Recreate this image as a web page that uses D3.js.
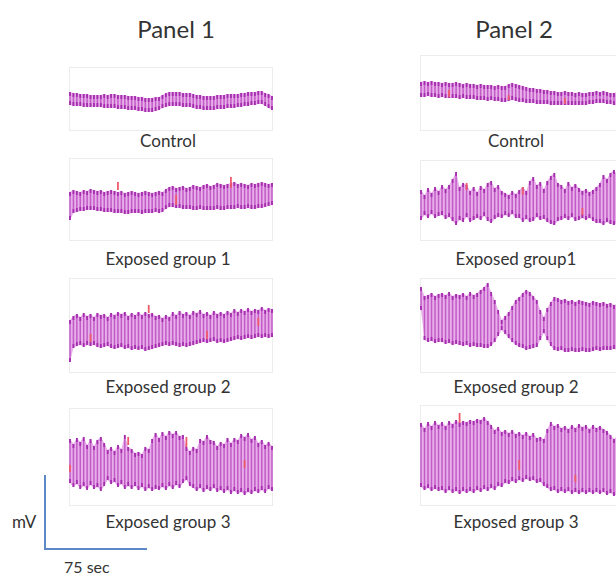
<!DOCTYPE html>
<html>
<head>
<meta charset="utf-8">
<script src="https://cdn.jsdelivr.net/npm/d3@7"></script>
<style>
  body { margin: 0; background: #fff; }
  text { font-family: Lato, "Open Sans", sans-serif; fill: #333; }
</style>
</head>
<body>
<svg width="616" height="577"></svg>
<script>
// panel titles and trace labels
var panels = ["Panel 1", "Panel 2"];
var labels1 = ["Control", "Exposed group 1", "Exposed group 2", "Exposed group 3"];
var labels2 = ["Control", "Exposed group1", "Exposed group 2", "Exposed group 3"];

// each trace: peak (hi) and trough (lo) of every cycle, in mV units (relative)
var p1CtrlHi = [9,8,8,7,7,7,6,6,6,6,7,6,7,7,6,6,6,5,5,5,4,4,3,3,3,4,4,6,8,9,9,9,9,8,8,8,7,6,6,5,5,5,5,6,6,6,7,7,7,7,8,8,9,9,9,10,10,8,7,5];
var p1CtrlLo = [-4,-5,-5,-5,-6,-6,-6,-6,-6,-6,-7,-7,-7,-7,-8,-8,-8,-9,-9,-9,-10,-10,-11,-11,-11,-10,-9,-7,-6,-5,-5,-5,-5,-6,-6,-6,-7,-8,-8,-9,-9,-9,-9,-8,-8,-8,-7,-7,-7,-6,-6,-5,-5,-4,-4,-3,-3,-5,-7,-9];

var p1Exp1Hi = [11,13,12,11,13,12,14,13,12,13,11,12,13,12,11,12,10,11,12,11,10,11,12,11,10,11,12,11,14,16,17,15,16,17,15,16,18,17,16,18,19,17,18,20,19,18,19,20,21,19,20,19,18,20,19,20,21,20,19,20];
var p1Exp1Lo = [-17,-10,-9,-8,-8,-7,-7,-7,-8,-8,-9,-9,-9,-10,-10,-10,-11,-11,-10,-10,-10,-11,-10,-10,-10,-9,-10,-9,-6,-4,-4,-5,-5,-6,-6,-6,-7,-7,-6,-7,-7,-7,-7,-6,-7,-7,-6,-6,-6,-5,-6,-6,-5,-6,-6,-5,-5,-4,-3,-2];

var p1Exp2Hi = [10,14,16,13,17,14,16,13,17,15,16,13,17,15,18,16,18,14,17,15,18,15,18,16,17,14,15,12,15,13,18,15,19,16,18,15,19,17,20,16,18,15,19,16,18,16,19,17,21,18,21,19,22,19,21,20,23,20,22,21];
var p1Exp2Lo = [-32,-18,-16,-15,-17,-15,-16,-15,-17,-18,-17,-16,-18,-19,-18,-17,-19,-18,-20,-19,-20,-19,-21,-20,-19,-18,-17,-16,-15,-16,-15,-16,-17,-16,-17,-16,-15,-14,-13,-12,-13,-12,-11,-13,-12,-13,-12,-11,-10,-9,-10,-9,-8,-9,-8,-7,-8,-7,-8,-7];

var p1Exp3Hi = [24,19,25,21,26,18,24,17,23,26,20,13,16,12,18,14,28,16,14,10,11,9,16,14,24,30,25,31,27,32,29,32,27,28,16,12,16,14,24,22,28,23,22,17,21,19,25,20,25,23,29,26,30,24,27,20,23,18,21,17];
var p1Exp3Lo = [-20,-24,-21,-26,-23,-27,-22,-26,-24,-28,-23,-17,-21,-19,-24,-21,-26,-23,-26,-23,-27,-24,-28,-25,-28,-26,-27,-24,-27,-23,-26,-22,-25,-20,-17,-23,-25,-28,-25,-29,-26,-28,-25,-29,-27,-30,-27,-31,-28,-31,-29,-32,-29,-31,-28,-30,-27,-30,-26,-28];

var p2CtrlHi = [11,12,11,12,11,11,10,11,10,10,11,10,9,10,9,9,8,9,8,8,8,7,8,7,7,9,10,9,8,7,6,5,5,4,4,3,3,2,2,1,1,2,1,1,0,1,0,0,1,1,2,1,2,1,0,0,1,0,0,0];
var p2CtrlLo = [-4,-4,-3,-4,-4,-5,-4,-5,-5,-5,-5,-6,-5,-6,-6,-6,-7,-7,-7,-8,-7,-8,-8,-9,-9,-8,-7,-8,-9,-9,-10,-10,-10,-11,-11,-11,-11,-12,-12,-12,-12,-12,-12,-12,-12,-12,-12,-12,-11,-11,-10,-10,-10,-11,-11,-12,-12,-12,-12,-12];

var p2Exp1Hi = [13,8,15,10,16,12,18,14,18,24,31,16,20,18,12,16,11,17,14,20,22,15,18,12,10,8,12,9,13,16,12,22,26,18,21,14,22,27,30,20,18,14,21,16,19,15,12,14,11,13,16,20,28,24,30,33,28,32,30,33];
var p2Exp1Lo = [-17,-12,-15,-11,-15,-13,-12,-16,-14,-18,-22,-17,-19,-14,-19,-17,-15,-17,-13,-18,-20,-16,-14,-15,-12,-14,-11,-15,-15,-19,-16,-19,-18,-14,-17,-16,-19,-21,-22,-18,-17,-15,-17,-14,-18,-17,-15,-17,-15,-18,-20,-20,-22,-19,-21,-22,-20,-22,-21,-23];

var p2Exp2Hi = [33,24,25,27,24,26,27,25,28,24,26,25,27,24,28,25,27,30,33,37,28,20,10,0,4,8,14,20,23,27,30,28,24,20,10,3,12,18,23,22,20,21,19,20,18,20,19,18,17,19,18,17,18,16,17,15,16,15,14,15];
var p2Exp2Lo = [10,-20,-22,-21,-23,-22,-22,-24,-23,-25,-24,-25,-26,-25,-27,-26,-27,-27,-28,-28,-26,-22,-16,-10,-14,-18,-22,-25,-27,-28,-30,-29,-28,-27,-20,-13,-20,-26,-30,-31,-30,-32,-32,-31,-32,-32,-31,-32,-32,-31,-30,-31,-30,-30,-30,-29,-30,-30,-29,-30];

var p2Exp3Hi = [32,27,33,29,34,30,33,29,34,31,35,32,34,33,35,34,36,35,38,34,30,25,28,23,25,22,25,21,23,20,23,19,22,17,18,16,26,33,29,31,27,29,26,30,27,31,28,30,26,30,27,29,26,24,20,16,19,15,17,14];
var p2Exp3Lo = [-32,-35,-33,-36,-34,-36,-35,-38,-35,-38,-36,-39,-36,-38,-36,-38,-35,-37,-34,-36,-33,-35,-31,-32,-28,-29,-26,-28,-25,-27,-24,-26,-25,-28,-27,-31,-33,-36,-35,-38,-36,-38,-36,-39,-37,-39,-37,-39,-37,-39,-37,-39,-37,-40,-38,-41,-39,-41,-39,-41];

// red/orange event marks: [cycle, hi, lo]
var p1Exp1Marks = [[14,21,13],[47,26,15],[31,8,-2]];
var p1Exp2Marks = [[23,25,17],[6,-4,-12],[40,-1,-9],[55,12,4]];
var p1Exp3Marks = [[17,26,18],[34,26,16],[51,3,-5],[0,-2,-9]];
var p2CtrlMarks = [[8,3,-4],[25,-2,-7],[41,-5,-11]];
var p2Exp1Marks = [[13,20,13],[29,16,8],[46,-5,-12]];
var p2Exp3Marks = [[11,42,32],[28,-5,-15],[44,-20,-27]];

// layout
var svg = d3.select("svg");
var panelX = [[70, 272], [421, 628]];
var titleX = [176, 514];
var labelX = [168, 516];
var rowCy = [[101, 203, 330, 463], [93, 203, 320, 455]];
var boxY = [[[67, 130], [158, 240], [278, 372], [408, 505]],
            [[55, 130], [160, 240], [278, 372], [405, 505]]];
var labelY = [147, 265, 393, 528];

var traces = [
  [[p1CtrlHi, p1CtrlLo, []], [p1Exp1Hi, p1Exp1Lo, p1Exp1Marks], [p1Exp2Hi, p1Exp2Lo, p1Exp2Marks], [p1Exp3Hi, p1Exp3Lo, p1Exp3Marks]],
  [[p2CtrlHi, p2CtrlLo, p2CtrlMarks], [p2Exp1Hi, p2Exp1Lo, p2Exp1Marks], [p2Exp2Hi, p2Exp2Lo, []], [p2Exp3Hi, p2Exp3Lo, p2Exp3Marks]]
];
var allLabels = [labels1, labels2];

panels.forEach(function(title, p) {
  svg.append("text")
      .attr("x", titleX[p])
      .attr("y", 38)
      .attr("text-anchor", "middle")
      .attr("font-size", 24)
      .text(title);

  traces[p].forEach(function(t, r) {
    var hi = t[0], lo = t[1], marks = t[2];
    var cy = rowCy[p][r];
    var x = d3.scaleLinear().domain([0, hi.length - 1]).range(panelX[p]);
    var y = d3.scaleLinear().domain([-50, 50]).range([cy + 50, cy - 50]);
    var g = svg.append("g");

    // faint frame
    g.append("rect")
        .attr("x", panelX[p][0] - 0.5)
        .attr("y", boxY[p][r][0] + 0.5)
        .attr("width", panelX[p][1] - panelX[p][0] + 1)
        .attr("height", boxY[p][r][1] - boxY[p][r][0])
        .attr("fill", "none")
        .attr("stroke", "#ececec");

    var idx = d3.range(hi.length);

    // light fill between the oscillations
    g.append("path")
        .datum(idx)
        .attr("fill", "#e7aee9")
        .attr("d", d3.area()
          .x(function(i) { return x(i); })
          .y0(function(i) { return y(Math.min(lo[i], hi[i])); })
          .y1(function(i) { return y(hi[i]); }));

    // one vertical stroke per cycle
    g.selectAll(".bar").data(idx).enter().append("line")
        .attr("x1", function(i) { return x(i); })
        .attr("x2", function(i) { return x(i); })
        .attr("y1", function(i) { return y(hi[i]); })
        .attr("y2", function(i) { return y(lo[i]); })
        .attr("stroke", "#c25bc8")
        .attr("stroke-width", 1.5);

    // darker tips
    g.selectAll(".tipT").data(idx).enter().append("line")
        .attr("x1", function(i) { return x(i); })
        .attr("x2", function(i) { return x(i); })
        .attr("y1", function(i) { return y(hi[i]); })
        .attr("y2", function(i) { return Math.min(y(hi[i]) + 4, y(lo[i])); })
        .attr("stroke", "#a52eae")
        .attr("stroke-width", 1.8);
    g.selectAll(".tipB").data(idx).enter().append("line")
        .attr("x1", function(i) { return x(i); })
        .attr("x2", function(i) { return x(i); })
        .attr("y1", function(i) { return Math.max(y(lo[i]) - 4, y(hi[i])); })
        .attr("y2", function(i) { return y(lo[i]); })
        .attr("stroke", "#a52eae")
        .attr("stroke-width", 1.8);

    // event marks
    g.selectAll(".mark").data(marks).enter().append("line")
        .attr("x1", function(d) { return x(d[0]); })
        .attr("x2", function(d) { return x(d[0]); })
        .attr("y1", function(d) { return y(d[1]); })
        .attr("y2", function(d) { return y(d[2]); })
        .attr("stroke", "#ef5a6a")
        .attr("stroke-width", 1.8);

    svg.append("text")
        .attr("x", labelX[p])
        .attr("y", labelY[r])
        .attr("text-anchor", "middle")
        .attr("font-size", 17)
        .text(allLabels[p][r]);
  });
});

// scale bar
var bar = svg.append("g").attr("stroke", "#5b8ac6").attr("stroke-width", 2).attr("fill", "none");
bar.append("path").attr("d", "M45,475 L45,549 L147,549");
svg.append("text").attr("x", 12).attr("y", 528).attr("font-size", 17).text("mV");
svg.append("text").attr("x", 64).attr("y", 573).attr("font-size", 16).text("75 sec");
</script>
</body>
</html>
